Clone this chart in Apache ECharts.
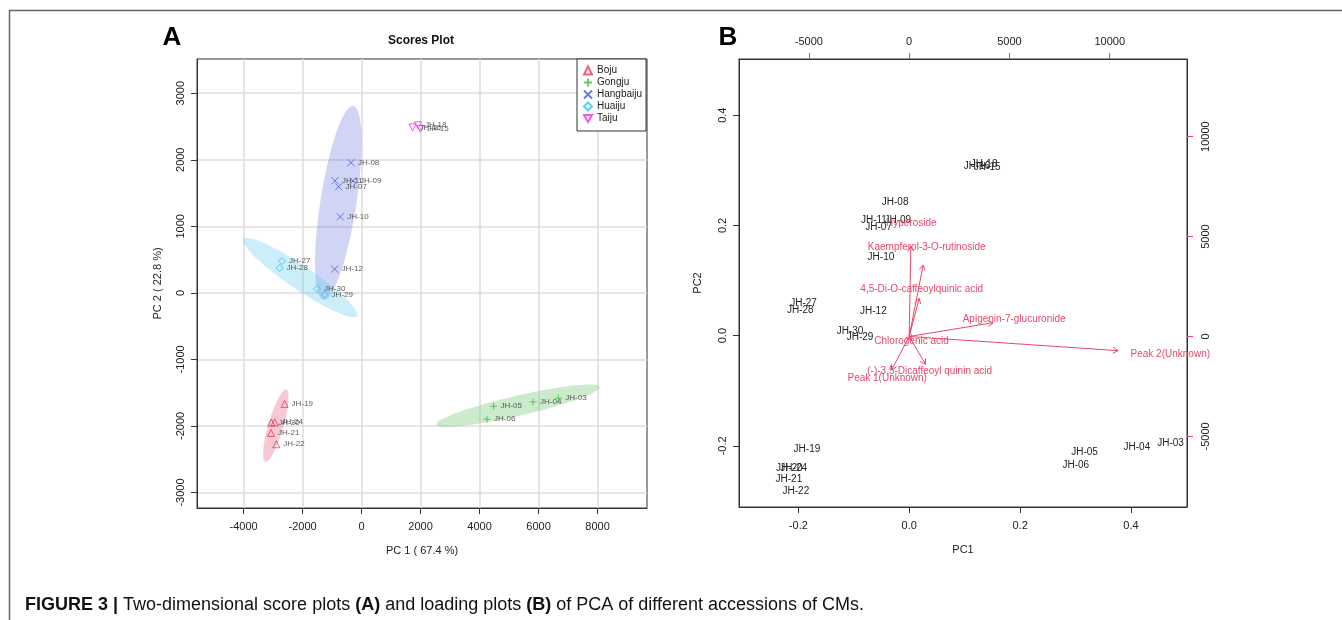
<!DOCTYPE html>
<html>
<head>
<meta charset="utf-8">
<script src="https://cdn.jsdelivr.net/npm/echarts@6/dist/echarts.min.js"></script>
<style>
  html, body { margin: 0; padding: 0; background: #fff; }
  #chart { width: 1342px; height: 620px; }
</style>
</head>
<body>
<div id="chart"></div>
<script>
// groups (cultivars) and their score-plot symbols
var groupNames  = ['Boju', 'Gongju', 'Hangbaiju', 'Huaiju', 'Taiju'];
var groupColors = ['#f2355b', '#3cbf3c', '#4a57dc', '#27c6ef', '#ec2fec'];
var groupSymbols = [
  'triangle',
  'path://M1,0L1,2M0,1L2,1',
  'path://M0,0L2,2M0,2L2,0',
  'diamond',
  'path://M0,0L2,0L1,1.732Z'
];

// PCA scores
var sampleIds   = ['JH-19', 'JH-20', 'JH-24', 'JH-21', 'JH-22',
                   'JH-03', 'JH-04', 'JH-05', 'JH-06',
                   'JH-07', 'JH-08', 'JH-09', 'JH-10', 'JH-11', 'JH-12',
                   'JH-27', 'JH-28', 'JH-29', 'JH-30',
                   'JH-15', 'JH-16', 'JH-18'];
var sampleGroup = [0, 0, 0, 0, 0, 1, 1, 1, 1, 2, 2, 2, 2, 2, 2, 3, 3, 3, 3, 4, 4, 4];
var pc1Scores   = [-2610, -3061, -2949, -3071, -2892,
                   6668, 5810, 4475, 4251,
                   -780, -360, -292, -722, -902, -915,
                   -2698, -2780, -1254, -1512,
                   1990, 1729, 1912];
var pc2Scores   = [-1669, -1949, -1944, -2105, -2275,
                   -1583, -1639, -1704, -1899,
                   1594, 1955, 1684, 1143, 1684, 356,
                   477, 371, -30, 60,
                   2466, 2487, 2518];

// confidence ellipses (centre + semi-axis vectors, score units)
var ellipseCx = [-2908, 5302, -790, -2078];
var ellipseCy = [-1997, -1696, 1349, 229];
var ellipseAx = [356, 2769, 508, 1922];
var ellipseAy = [544, 283, 1459, -577];
var ellipseBx = [244, 75, 603, -227];
var ellipseBy = [-32, -147, -41, -149];
var ellipseFill = ['rgba(232,120,150,0.40)', 'rgba(120,200,120,0.38)',
                   'rgba(110,125,225,0.32)', 'rgba(110,205,235,0.35)'];

// biplot (panel B): score scaling and variable loadings
var scoreScaleB  = [14150, 8075];
var loadingNames = ['Hyperoside', 'Kaempferol-3-O-rutinoside', '4,5-Di-O-caffeoylquinic acid',
                    'Apigenin-7-glucuronide', 'Chlorogenic acid', '(-)-3,5-Dicaffeoyl quinin acid',
                    'Peak 1(Unknown)', 'Peak 2(Unknown)'];
var loadingX = [105, 872, 623, 5232, 120, 1021, -1096, 13019];
var loadingY = [5650, 4470, 2385, 865, -225, -1740, -2095, -885];

// tick labels
var scoreTicksX = [-4000, -2000, 0, 2000, 4000, 6000, 8000];
var scoreTicksY = [-3000, -2000, -1000, 0, 1000, 2000, 3000];
var pcTicks = [-0.2, 0, 0.2, 0.4];
var loadTicks = [-5000, 0, 5000, 10000];

var FONT = 'Liberation Sans, Arial, sans-serif';
var ARROW = '#e8476a';
var chart = echarts.init(document.getElementById('chart'));

function onlyTicks(list, fmt) {
  return function (v) {
    for (var i = 0; i < list.length; i++) {
      if (Math.abs(list[i] - v) < 1e-9) return fmt ? fmt(v) : String(v);
    }
    return '';
  };
}
function fixed1(v) { return v.toFixed(1); }

var series = [];

// ellipses
series.push({
  type: 'custom',
  xAxisIndex: 0,
  yAxisIndex: 0,
  z: 1,
  silent: true,
  data: ellipseCx.map(function (c, i) { return [c, ellipseCy[i]]; }),
  renderItem: function (params, api) {
    var i = params.dataIndex;
    var pts = [];
    for (var k = 0; k <= 90; k++) {
      var t = k / 90 * Math.PI * 2;
      var c = Math.cos(t), s = Math.sin(t);
      pts.push(api.coord([ellipseCx[i] + ellipseAx[i] * c + ellipseBx[i] * s,
                          ellipseCy[i] + ellipseAy[i] * c + ellipseBy[i] * s]));
    }
    return { type: 'polygon', shape: { points: pts }, style: { fill: ellipseFill[i] } };
  }
});

// score points by group
groupNames.forEach(function (name, g) {
  var pts = [];
  sampleIds.forEach(function (id, i) {
    if (sampleGroup[i] === g) pts.push([pc1Scores[i], pc2Scores[i], id]);
  });
  series.push({
    name: name,
    type: 'scatter',
    xAxisIndex: 0,
    yAxisIndex: 0,
    z: 3,
    symbol: groupSymbols[g],
    symbolSize: 7,
    itemStyle: { color: 'rgba(255,255,255,0)', borderColor: groupColors[g], borderWidth: 1 },
    label: {
      show: true, position: 'right', distance: 3,
      formatter: function (p) { return p.value[2]; },
      fontSize: 8, color: '#333', fontFamily: FONT
    },
    emphasis: { disabled: true },
    data: pts
  });
});

// biplot: sample names
series.push({
  type: 'custom',
  xAxisIndex: 1,
  yAxisIndex: 1,
  z: 2,
  silent: true,
  data: sampleIds.map(function (id, i) {
    return [pc1Scores[i] / scoreScaleB[0], pc2Scores[i] / scoreScaleB[1]];
  }),
  renderItem: function (params, api) {
    var p = api.coord([api.value(0), api.value(1)]);
    return {
      type: 'text',
      style: {
        text: sampleIds[params.dataIndex], x: p[0], y: p[1],
        align: 'center', verticalAlign: 'middle',
        fill: '#222', fontSize: 10, fontFamily: FONT
      }
    };
  }
});

// biplot: loading arrows (drawn to 0.8 of the loading, label at the loading)
series.push({
  type: 'custom',
  xAxisIndex: 2,
  yAxisIndex: 2,
  z: 4,
  silent: true,
  data: loadingX.map(function (x, i) { return [x, loadingY[i]]; }),
  renderItem: function (params, api) {
    var i = params.dataIndex;
    var lx = api.value(0), ly = api.value(1);
    var o = api.coord([0, 0]);
    var tip = api.coord([0.8 * lx, 0.8 * ly]);
    var lab = api.coord([lx, ly]);
    var ang = Math.atan2(tip[1] - o[1], tip[0] - o[0]);
    var h = 6, a = Math.PI / 6;
    var head = [
      [tip[0] - h * Math.cos(ang - a), tip[1] - h * Math.sin(ang - a)],
      tip,
      [tip[0] - h * Math.cos(ang + a), tip[1] - h * Math.sin(ang + a)]
    ];
    return {
      type: 'group',
      children: [
        { type: 'line', shape: { x1: o[0], y1: o[1], x2: tip[0], y2: tip[1] },
          style: { stroke: ARROW, lineWidth: 1 } },
        { type: 'polyline', shape: { points: head },
          style: { stroke: ARROW, fill: null, lineWidth: 1 } },
        { type: 'text', style: {
            text: loadingNames[i], x: lab[0], y: lab[1],
            align: 'center', verticalAlign: 'middle',
            fill: ARROW, fontSize: 10, fontFamily: FONT } }
      ]
    };
  }
});

var labelText = { fontSize: 11, color: '#222', fontFamily: FONT };
var nameText = { fontSize: 11, color: '#222', fontFamily: FONT };

chart.setOption({
  backgroundColor: '#fff',
  animation: false,
  textStyle: { fontFamily: FONT },
  grid: [
    { left: 197, top: 59, width: 450, height: 449, show: true,
      borderColor: '#333', borderWidth: 1, backgroundColor: 'transparent' },
    { left: 739, top: 59, width: 448, height: 448, show: true,
      borderColor: '#333', borderWidth: 1, backgroundColor: 'transparent' }
  ],
  legend: {
    orient: 'vertical',
    left: 577,
    top: 59,
    itemWidth: 8,
    itemHeight: 8,
    itemGap: 1,
    padding: [6, 4, 7, 6],
    borderColor: '#333',
    borderWidth: 1,
    backgroundColor: '#fff',
    textStyle: { fontSize: 10, color: '#222', fontFamily: FONT, lineHeight: 11 },
    data: groupNames
  },
  xAxis: [
    { gridIndex: 0, type: 'value', min: -5580, max: 9675, splitNumber: 7,
      name: 'PC 1 ( 67.4 %)', nameLocation: 'middle', nameGap: 37, nameTextStyle: nameText,
      axisLine: { show: true, onZero: false, lineStyle: { color: '#333' } },
      axisTick: { show: true, length: 6, customValues: scoreTicksX, lineStyle: { color: '#333' } },
      axisLabel: Object.assign({ customValues: scoreTicksX, margin: 13,
        formatter: onlyTicks(scoreTicksX) }, labelText),
      splitLine: { show: true, lineStyle: { color: '#dcdcdc', width: 1.5 } } },
    { gridIndex: 1, type: 'value', position: 'bottom', min: -0.307, max: 0.501, splitNumber: 4,
      name: 'PC1', nameLocation: 'middle', nameGap: 37, nameTextStyle: nameText,
      axisLine: { show: true, onZero: false, lineStyle: { color: '#333' } },
      axisTick: { show: true, length: 6, customValues: pcTicks, lineStyle: { color: '#333' } },
      axisLabel: Object.assign({ customValues: pcTicks, margin: 13,
        formatter: onlyTicks(pcTicks, fixed1) }, labelText),
      splitLine: { show: false } },
    { gridIndex: 1, type: 'value', position: 'top', min: -8485, max: 13852, splitNumber: 4,
      axisLine: { show: true, onZero: false, lineStyle: { color: '#333' } },
      axisTick: { show: true, length: 6, customValues: loadTicks, lineStyle: { color: ARROW } },
      axisLabel: Object.assign({ customValues: loadTicks, margin: 12,
        formatter: onlyTicks(loadTicks) }, labelText),
      splitLine: { show: false } }
  ],
  yAxis: [
    { gridIndex: 0, type: 'value', min: -3233, max: 3514, splitNumber: 7,
      name: 'PC 2 ( 22.8 %)', nameLocation: 'middle', nameGap: 34, nameRotate: 90, nameTextStyle: nameText,
      axisLine: { show: true, onZero: false, lineStyle: { color: '#333' } },
      axisTick: { show: true, length: 6, customValues: scoreTicksY, lineStyle: { color: '#333' } },
      axisLabel: Object.assign({ customValues: scoreTicksY, margin: 11, rotate: 90,
        formatter: onlyTicks(scoreTicksY) }, labelText),
      splitLine: { show: true, lineStyle: { color: '#dcdcdc', width: 1.5 } } },
    { gridIndex: 1, type: 'value', position: 'left', min: -0.311, max: 0.502, splitNumber: 4,
      name: 'PC2', nameLocation: 'middle', nameGap: 36, nameRotate: 90, nameTextStyle: nameText,
      axisLine: { show: true, onZero: false, lineStyle: { color: '#333' } },
      axisTick: { show: true, length: 6, customValues: pcTicks, lineStyle: { color: '#333' } },
      axisLabel: Object.assign({ customValues: pcTicks, margin: 11, rotate: 90,
        formatter: onlyTicks(pcTicks, fixed1) }, labelText),
      splitLine: { show: false } },
    { gridIndex: 1, type: 'value', position: 'right', min: -8530, max: 13885, splitNumber: 4,
      axisLine: { show: true, onZero: false, lineStyle: { color: '#333' } },
      axisTick: { show: true, length: 6, customValues: loadTicks, lineStyle: { color: ARROW } },
      axisLabel: Object.assign({ customValues: loadTicks, margin: 13, rotate: 90,
        formatter: onlyTicks(loadTicks) }, labelText),
      splitLine: { show: false } }
  ],
  graphic: [
    { type: 'line', shape: { x1: 9, y1: 10.5, x2: 1342, y2: 10.5 }, style: { stroke: '#666', lineWidth: 1.5 } },
    { type: 'line', shape: { x1: 9.5, y1: 10, x2: 9.5, y2: 620 }, style: { stroke: '#666', lineWidth: 1.5 } },
    { type: 'text', x: 172, y: 38, style: { text: 'A', align: 'center', verticalAlign: 'middle',
        fontSize: 26, fontWeight: 'bold', fill: '#000', fontFamily: FONT } },
    { type: 'text', x: 728, y: 38, style: { text: 'B', align: 'center', verticalAlign: 'middle',
        fontSize: 26, fontWeight: 'bold', fill: '#000', fontFamily: FONT } },
    { type: 'text', x: 421, y: 41, style: { text: 'Scores Plot', align: 'center', verticalAlign: 'middle',
        fontSize: 12, fontWeight: 'bold', fill: '#111', fontFamily: FONT } },
    { type: 'text', x: 25, y: 605, style: {
        text: '{b|FIGURE 3 |} Two-dimensional score plots {b|(A)} and loading plots {b|(B)} of PCA of different accessions of CMs.',
        verticalAlign: 'middle', fontSize: 18, fill: '#111', fontFamily: FONT,
        rich: { b: { fontWeight: 'bold', fontSize: 18, fontFamily: FONT, fill: '#111' } } } }
  ],
  series: series
});
</script>
</body>
</html>
